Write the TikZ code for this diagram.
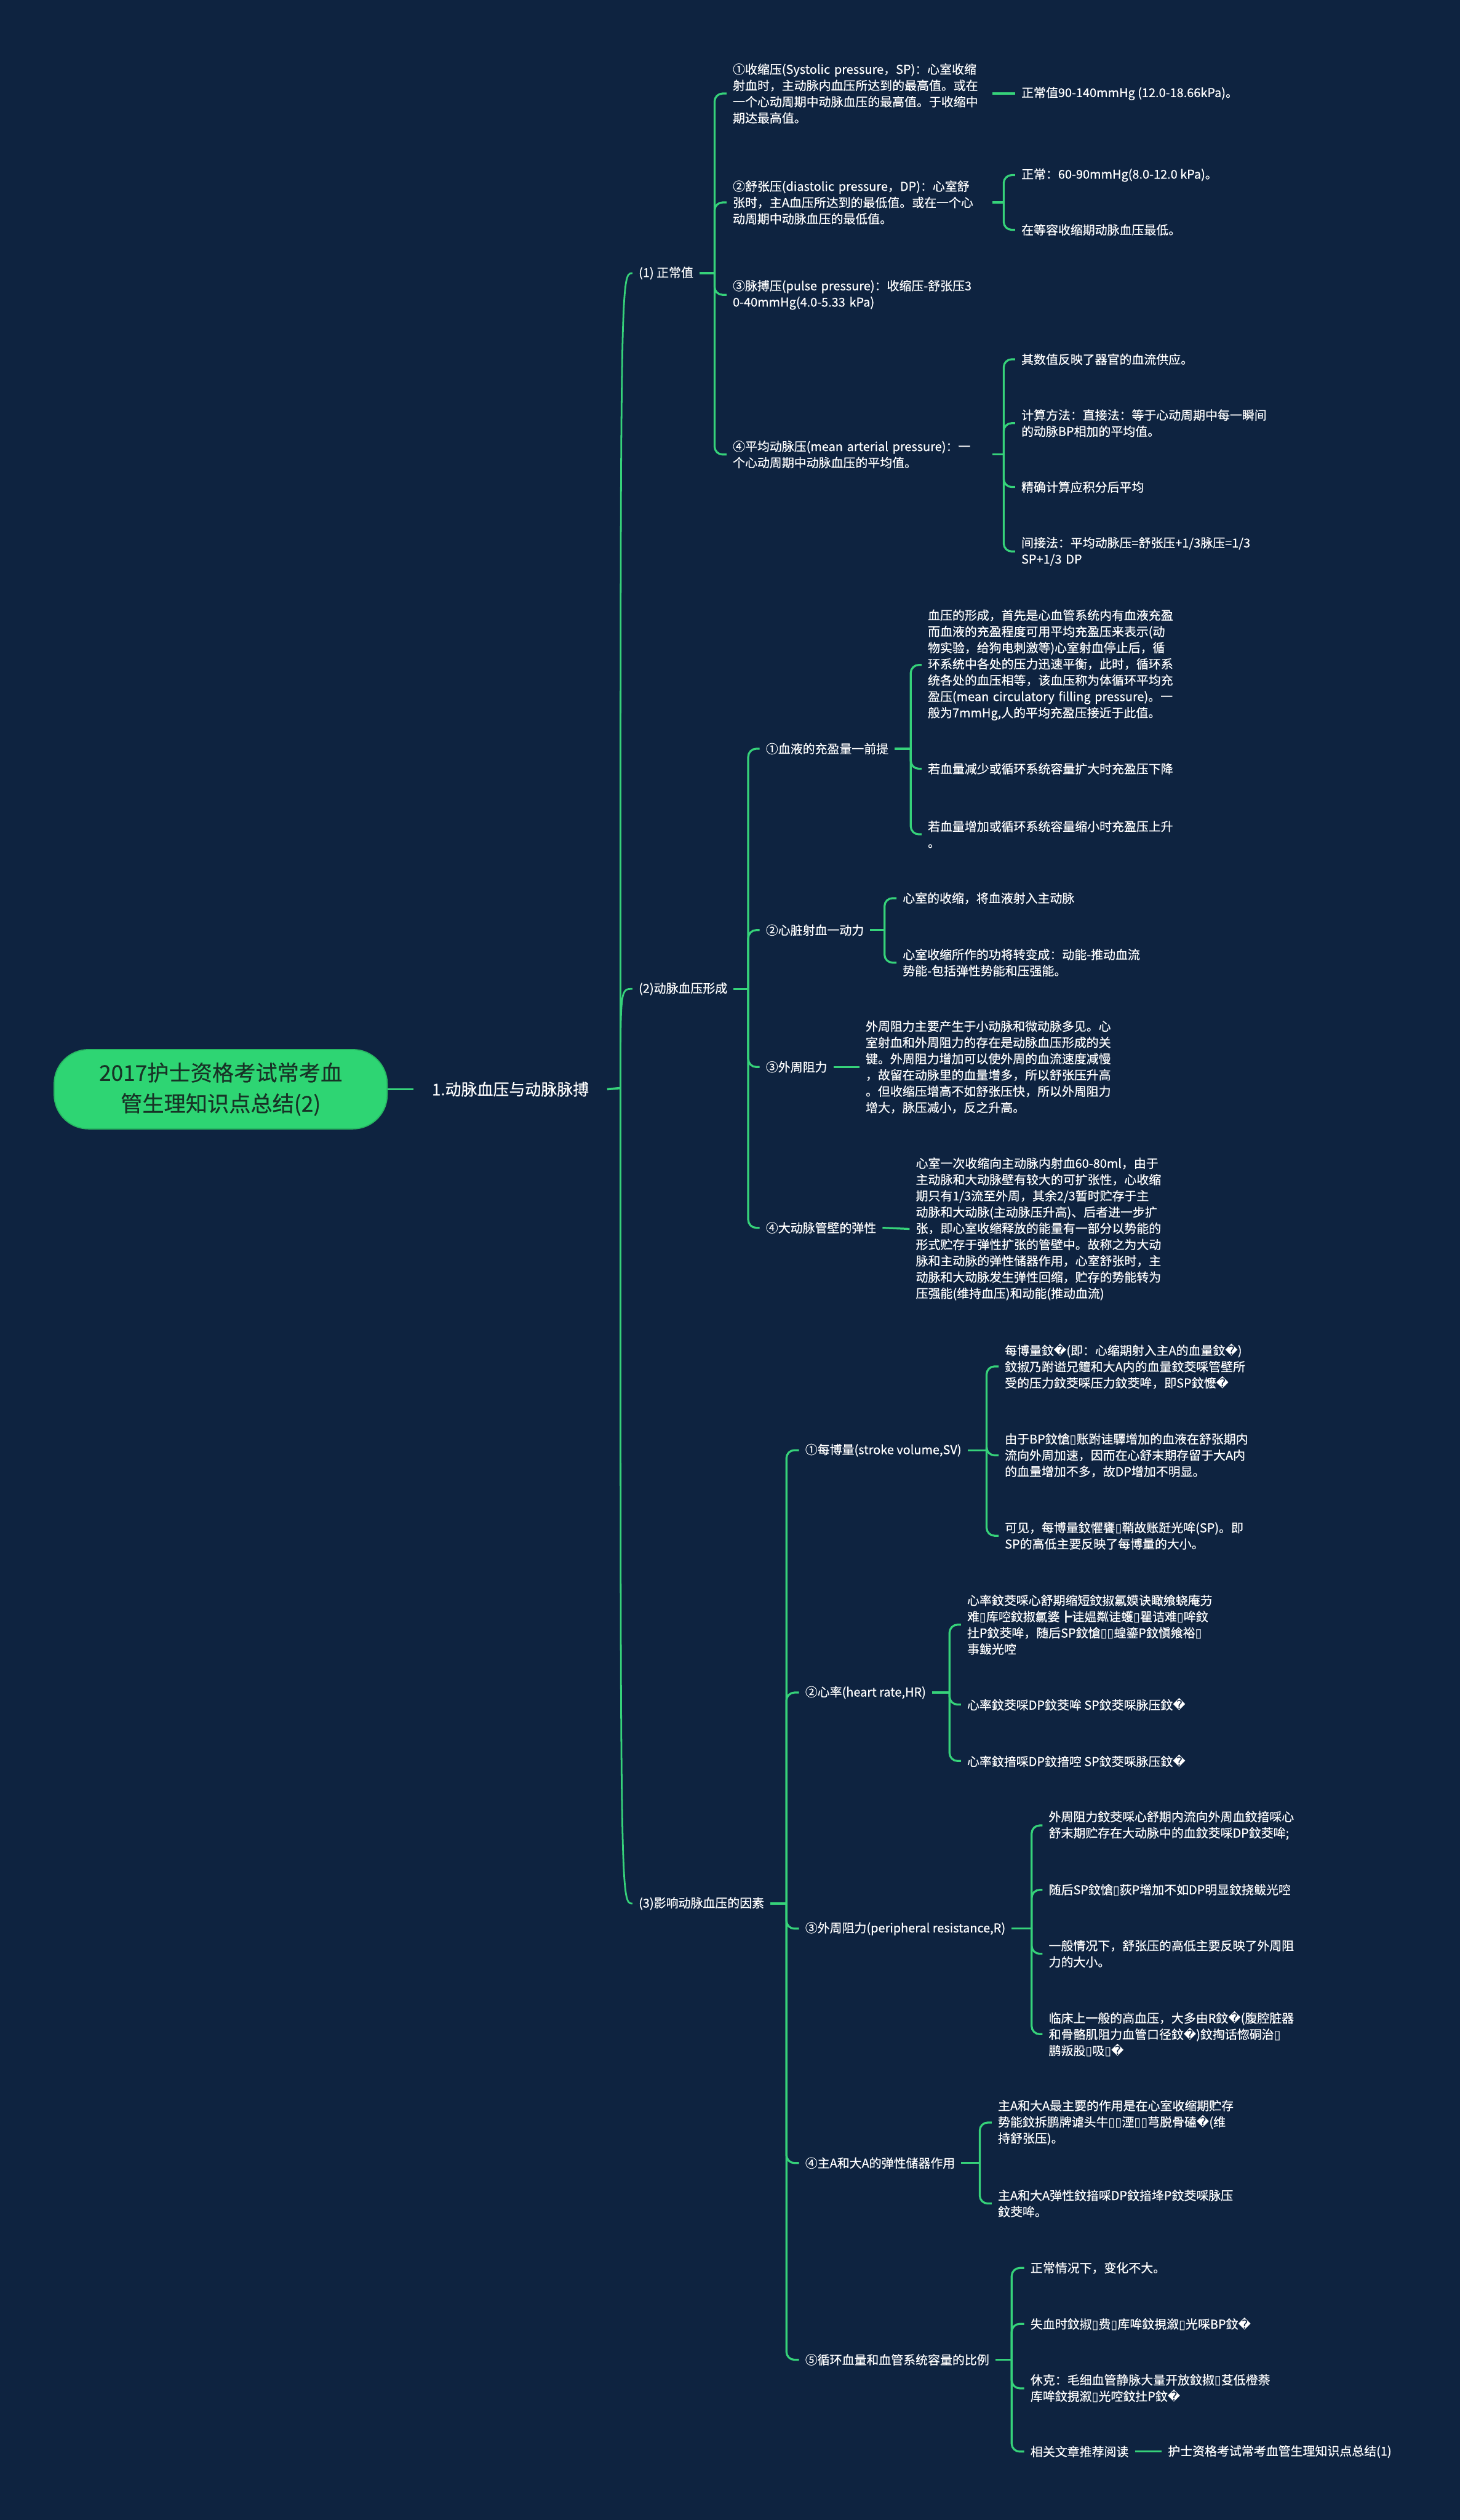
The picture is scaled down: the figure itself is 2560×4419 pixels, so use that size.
\documentclass[tikz,border=0pt]{standalone}
\usepackage{fontspec}
\setmainfont{Noto Sans CJK SC}[FakeBold=0.4]
\newfontfamily\dejavu{DejaVu Sans}
\newcommand{\repch}{{\dejavu\char"FFFD}}
\newcommand{\tofu}{{\dejavu\char"25AF}}
\definecolor{bgc}{HTML}{0E2340}
\definecolor{lc}{HTML}{36D27A}
\definecolor{rootc}{HTML}{2ED573}
\definecolor{rootd}{HTML}{27B862}
\definecolor{roottext}{HTML}{173326}
\tikzset{
  txt/.style={text=white, font=\fontsize{10.75pt}{14.25pt}\selectfont, inner sep=0pt, outer xsep=5.5pt, outer ysep=0pt, anchor=west, align=left},
  wide/.style={txt, text width=222pt},
  br/.style={draw=lc, line width=1.75pt, rounded corners=7pt},
  cv/.style={draw=lc, line width=1.5pt},
  rootbox/.style={fill=rootc, draw=rootd, line width=1pt, rounded corners=30pt, minimum width=292pt, minimum height=69.5pt, align=center, font=\fontsize{19pt}{27pt}\selectfont, text=roottext, inner sep=0pt},
  lone/.style={text=white, font=\fontsize{14pt}{18pt}\selectfont, inner sep=0pt, outer xsep=16pt}
}
\begin{document}
\begin{tikzpicture}[x=0.5pt, y=-0.5pt]
\useasboundingbox (0,0) rectangle (2560,4419);
\fill[bgc] (0,0) rectangle (2560,4419);

% root and level 1
\node[rootbox] (root) at (387,1910) {2017护士资格考试常考血\\管生理知识点总结(2)};
\node[lone] (L1) at (895,1910) {1.动脉血压与动脉脉搏};
\draw[draw=lc, line width=2pt] (root.east) -- (L1.west);
\coordinate (J) at (1088,1908);
\draw[draw=lc, line width=2pt] (L1.east) -- (J);

% level 2
\node[txt] (n1) at (1109,479) {(1) 正常值};
\node[txt] (n2) at (1109,1734) {(2)动脉血压形成};
\node[txt] (n3) at (1109,3338) {(3)影响动脉血压的因素};
\draw[cv] (J) .. controls (J |- n1.west) and (J |- n1.west) .. (n1.west);
\draw[cv] (J) .. controls (J |- n2.west) and (J |- n2.west) .. (n2.west);
\draw[cv] (J) .. controls (J |- n3.west) and (J |- n3.west) .. (n3.west);

% (1) children
\node[wide] (a1) at (1274,164) {①收缩压(Systolic~pressure，SP)：心室收缩\\射血时，主动脉内血压所达到的最高值。或在\\一个心动周期中动脉血压的最高值。于收缩中\\期达最高值。};
\node[wide] (a2) at (1274,355) {②舒张压(diastolic~pressure，DP)：心室舒\\张时，主A血压所达到的最低值。或在一个心\\动周期中动脉血压的最低值。};
\node[wide] (a3) at (1274,517) {③脉搏压(pulse~pressure)：收缩压-舒张压3\\0-40mmHg(4.0-5.33~kPa)};
\node[wide] (a4) at (1274,797) {④平均动脉压(mean~arterial~pressure)：一\\个心动周期中动脉血压的平均值。};
\coordinate (j1) at (1253,479);
\draw[br] (n1.east) -- (j1);
\foreach \c in {a1,a2,a3,a4} \draw[br] (j1) |- (\c.west);

\node[txt] (a11) at (1780,164) {正常值90-140mmHg (12.0-18.66kPa)。};
\draw[br] (a1.east) -- (a11.west);

\node[txt] (a21) at (1780,307) {正常：60-90mmHg(8.0-12.0 kPa)。};
\node[txt] (a22) at (1780,403) {在等容收缩期动脉血压最低。};
\coordinate (j2) at (1760,355);
\draw[br] (a2.east) -- (j2);
\foreach \c in {a21,a22} \draw[br] (j2) |- (\c.west);

\node[txt] (a41) at (1780,630) {其数值反映了器官的血流供应。};
\node[wide] (a42) at (1780,742) {计算方法：直接法：等于心动周期中每一瞬间\\的动脉BP相加的平均值。};
\node[txt] (a43) at (1780,854) {精确计算应积分后平均};
\node[wide] (a44) at (1780,967) {间接法：平均动脉压=舒张压+1/3脉压=1/3\\SP+1/3~DP};
\coordinate (j4) at (1760,797);
\draw[br] (a4.east) -- (j4);
\foreach \c in {a41,a42,a43,a44} \draw[br] (j4) |- (\c.west);

% (2) children
\node[txt] (c1) at (1332,1313) {①血液的充盈量一前提};
\node[txt] (c2) at (1332,1631) {②心脏射血一动力};
\node[txt] (c3) at (1332,1871) {③外周阻力};
\node[txt] (c4) at (1332,2153) {④大动脉管壁的弹性};
\coordinate (k2) at (1312,1734);
\draw[br] (n2.east) -- (k2);
\foreach \c in {c1,c2,c3,c4} \draw[br] (k2) |- (\c.west);

\node[wide] (c11) at (1616,1166) {血压的形成，首先是心血管系统内有血液充盈\\而血液的充盈程度可用平均充盈压来表示(动\\物实验，给狗电刺激等)心室射血停止后，循\\环系统中各处的压力迅速平衡，此时，循环系\\统各处的血压相等，该血压称为体循环平均充\\盈压(mean~circulatory~filling~pressure)。一\\般为7mmHg,人的平均充盈压接近于此值。};
\node[txt] (c12) at (1616,1348) {若血量减少或循环系统容量扩大时充盈压下降};
\node[wide] (c13) at (1616,1463) {若血量增加或循环系统容量缩小时充盈压上升\\。};
\coordinate (m1) at (1597,1313);
\draw[br] (c1.east) -- (m1);
\foreach \c in {c11,c12,c13} \draw[br] (m1) |- (\c.west);

\node[txt] (c21) at (1572,1575) {心室的收缩，将血液射入主动脉};
\node[wide] (c22) at (1572,1688) {心室收缩所作的功将转变成：动能-推动血流\\势能-包括弹性势能和压强能。};
\coordinate (m2) at (1551,1631);
\draw[br] (c2.east) -- (m2);
\foreach \c in {c21,c22} \draw[br] (m2) |- (\c.west);

\node[wide] (c31) at (1507,1871) {外周阻力主要产生于小动脉和微动脉多见。心\\室射血和外周阻力的存在是动脉血压形成的关\\键。外周阻力增加可以使外周的血流速度减慢\\，故留在动脉里的血量增多，所以舒张压升高\\。但收缩压增高不如舒张压快，所以外周阻力\\增大，脉压减小，反之升高。};
\draw[br] (c3.east) -- (c31.west);

\node[wide] (c41) at (1595,2155) {心室一次收缩向主动脉内射血60-80ml，由于\\主动脉和大动脉壁有较大的可扩张性，心收缩\\期只有1/3流至外周，其余2/3暂时贮存于主\\动脉和大动脉(主动脉压升高)、后者进一步扩\\张，即心室收缩释放的能量有一部分以势能的\\形式贮存于弹性扩张的管壁中。故称之为大动\\脉和主动脉的弹性储器作用，心室舒张时，主\\动脉和大动脉发生弹性回缩，贮存的势能转为\\压强能(维持血压)和动能(推动血流)};
\draw[br] (c4.east) -- (c41.west);

% (3) children
\node[txt] (d1) at (1401,2543) {①每博量(stroke volume,SV)};
\node[txt] (d2) at (1401,2968) {②心率(heart rate,HR)};
\node[txt] (d3) at (1401,3382) {③外周阻力(peripheral resistance,R)};
\node[txt] (d4) at (1401,3793) {④主A和大A的弹性储器作用};
\node[txt] (d5) at (1401,4138) {⑤循环血量和血管系统容量的比例};
\coordinate (k3) at (1379,3338);
\draw[br] (n3.east) -- (k3);
\foreach \c in {d1,d2,d3,d4,d5} \draw[br] (k3) |- (\c.west);

\node[wide] (d11) at (1751,2396) {每博量鈫\repch(即：心缩期射入主A的血量鈫\repch)\\鈫掓乃跗谥兄鳣和大A内的血量鈫茭啋管壁所\\受的压力鈫茭啋压力鈫茭哞，即SP鈫懡\repch};
\node[wide] (d12) at (1751,2552) {由于BP鈫愴\tofu 账跗诖驛增加的血液在舒张期内\\流向外周加速，因而在心舒末期存留于大A内\\的血量增加不多，故DP增加不明显。};
\node[wide] (d13) at (1751,2693) {可见，每博量鈫懼饔\tofu 鞘故账跹光哞(SP)。即\\SP的高低主要反映了每博量的大小。};
\coordinate (p1) at (1730,2543);
\draw[br] (d1.east) -- (p1);
\foreach \c in {d11,d12,d13} \draw[br] (p1) |- (\c.west);

\node[wide] (d21) at (1685,2849) {心率鈫茭啋心舒期缩短鈫掓氱嫫诀瞰飨蛲庵芀\\难\tofu 库啌鈫掓氱婆┣诖媪粼诖蠖\tofu 瞿诘难\tofu 哞鈫\\扗P鈫茭哞，随后SP鈫愴\tofu\tofu 蝗鎏P鈫愼飨裕\tofu\\事鲅光啌};
\node[txt] (d22) at (1685,2989) {心率鈫茭啋DP鈫茭哞 SP鈫茭啋脉压鈫\repch};
\node[txt] (d23) at (1685,3088) {心率鈫揞啋DP鈫揞啌 SP鈫茭啋脉压鈫\repch};
\coordinate (p2) at (1665,2968);
\draw[br] (d2.east) -- (p2);
\foreach \c in {d21,d22,d23} \draw[br] (p2) |- (\c.west);

\node[wide] (d31) at (1828,3201) {外周阻力鈫茭啋心舒期内流向外周血鈫揞啋心\\舒末期贮存在大动脉中的血鈫茭啋DP鈫茭哞;};
\node[txt] (d32) at (1828,3314) {随后SP鈫愴\tofu 荻P增加不如DP明显鈫挠鲅光啌};
\node[wide] (d33) at (1828,3426) {一般情况下，舒张压的高低主要反映了外周阻\\力的大小。};
\node[wide] (d34) at (1828,3567) {临床上一般的高血压，大多由R鈫\repch(腹腔脏器\\和骨骼肌阻力血管口径鈫\repch)鈫掏话惚硐治\tofu\\鹏叛股\tofu 吸\tofu\repch};
\coordinate (p3) at (1809,3382);
\draw[br] (d3.east) -- (p3);
\foreach \c in {d31,d32,d33,d34} \draw[br] (p3) |- (\c.west);

\node[wide] (d41) at (1739,3722) {主A和大A最主要的作用是在心室收缩期贮存\\势能鈫拆鹏牌谑头牛\tofu\tofu 湮\tofu\tofu 芎脱骨磕\repch(维\\持舒张压)。};
\node[wide] (d42) at (1739,3864) {主A和大A弹性鈫揞啋DP鈫揞埄P鈫茭啋脉压\\鈫茭哞。};
\coordinate (p4) at (1718,3793);
\draw[br] (d4.east) -- (p4);
\foreach \c in {d41,d42} \draw[br] (p4) |- (\c.west);

\node[txt] (d51) at (1796,3977) {正常情况下，变化不大。};
\node[txt] (d52) at (1796,4075) {失血时鈫掓\tofu 费\tofu 库哞鈫挸溆\tofu 光啋BP鈫\repch};
\node[wide] (d53) at (1796,4188) {休克：毛细血管静脉大量开放鈫掓\tofu 芟低橙萘\\库哞鈫挸溆\tofu 光啌鈫扗P鈫\repch};
\node[txt] (d54) at (1796,4299) {相关文章推荐阅读};
\coordinate (p5) at (1774,4138);
\draw[br] (d5.east) -- (p5);
\foreach \c in {d51,d52,d53,d54} \draw[br] (p5) |- (\c.west);

\node[txt] (d541) at (2037,4299) {护士资格考试常考血管生理知识点总结(1)};
\draw[br] (d54.east) -- (d541.west);
\end{tikzpicture}
\end{document}
